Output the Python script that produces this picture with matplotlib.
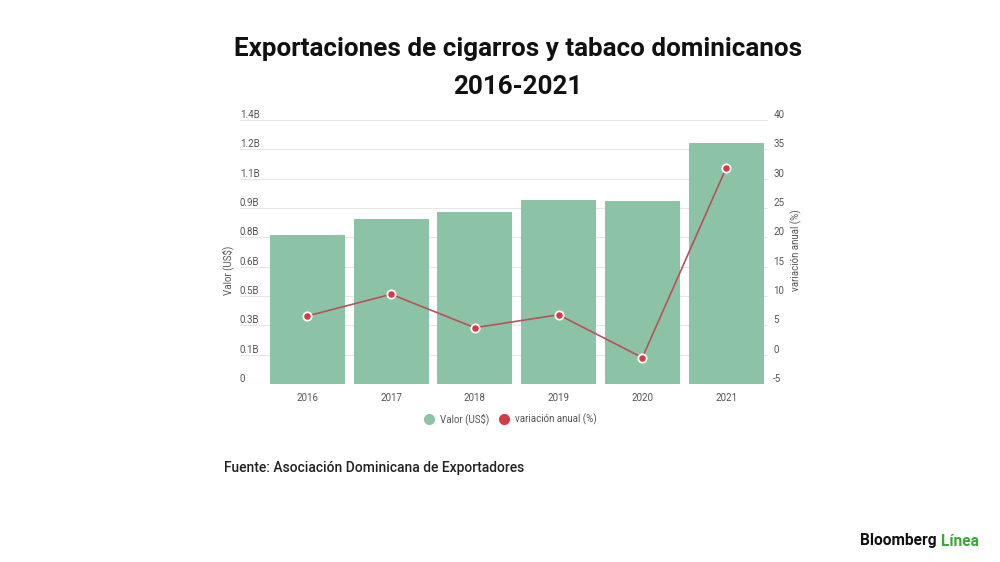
import numpy as np
import matplotlib
matplotlib.use("Agg")
import matplotlib.pyplot as plt
from matplotlib.lines import Line2D

plt.rcParams['font.family'] = ['Roboto', 'DejaVu Sans']

# datos
anios = ["2016", "2017", "2018", "2019", "2020", "2021"]
valor = [0.790, 0.873, 0.912, 0.976, 0.969, 1.280]   # miles de millones US$
variacion = [6.6, 10.3, 4.6, 6.8, -0.5, 31.8]          # %
etiquetas_izq = ["0", "0.1B", "0.3B", "0.5B", "0.6B", "0.8B", "0.9B", "1.1B", "1.2B", "1.4B"]
etiquetas_der = ["-5", "0", "5", "10", "15", "20", "25", "30", "35", "40"]

verde = "#8cc3a6"
rojo = "#d83a45"
linea = "#b5525a"
gris_txt = "#555555"

fig = plt.figure(figsize=(10, 5.62), dpi=100)
ax = fig.add_axes([0.24, 0.3167, 0.528, 0.4698])
ax2 = ax.twinx()

x = np.arange(len(anios))
ax.set_xlim(-0.804, 5.5)
ax.set_ylim(0, 1.4)
ax2.set_ylim(-5, 40)

pos_izq = np.linspace(0, 1.4, len(etiquetas_izq))
pos_der = np.linspace(-5, 40, len(etiquetas_der))

for p in pos_izq[1:]:
    ax.axhline(p, color="#e6e6e6", lw=0.8, zorder=0)
ax.axhline(0, color="#d0d0d0", lw=0.8, zorder=0)

ax.bar(x, valor, width=0.895, color=verde, zorder=2)
ax2.plot(x, variacion, color=linea, lw=1.2, marker="o", markersize=6,
         markerfacecolor=rojo, markeredgecolor="white", markeredgewidth=1.3, zorder=3)

for a in (ax, ax2):
    for s in a.spines.values():
        s.set_visible(False)
    a.tick_params(left=False, right=False, bottom=False, labelleft=False, labelright=False)
    a.set_yticks([])

ax.set_xticks(x)
ax.set_xticklabels(anios, fontsize=7, color=gris_txt)
ax.tick_params(axis="x", pad=3)

for p, t in zip(pos_izq, etiquetas_izq):
    ax.text(0.0, p, t, transform=ax.get_yaxis_transform(), ha="left", va="bottom",
            fontsize=7, color=gris_txt)
for p, t in zip(pos_der, etiquetas_der):
    ax2.text(1.01, p, t, transform=ax2.get_yaxis_transform(), ha="left", va="bottom",
             fontsize=7, color=gris_txt)

fig.text(0.228, 1 - 270 / 562, "Valor (US$)", rotation=90, ha="center", va="center",
         fontsize=7, color=gris_txt)
fig.text(0.796, 1 - 250 / 562, "variación anual (%)", rotation=90, ha="center", va="center",
         fontsize=7, color=gris_txt)

fig.text(0.518, 1 - 68 / 562, "Exportaciones de cigarros y tabaco dominicanos\n2016-2021",
         ha="center", va="center", fontsize=18.7, fontweight="bold", color="#111111",
         linespacing=1.75)

handles = [Line2D([], [], marker="o", ls="", markersize=7, markerfacecolor=verde, markeredgecolor=verde),
           Line2D([], [], marker="o", ls="", markersize=7, markerfacecolor=rojo, markeredgecolor=rojo)]
fig.legend(handles, ["Valor (US$)", "variación anual (%)"], loc="center",
           bbox_to_anchor=(0.508, 1 - 419 / 562), ncol=2, frameon=False, fontsize=7,
           handletextpad=0.1, columnspacing=0.6, labelcolor=gris_txt)

fig.text(0.224, 1 - 468 / 562, "Fuente: Asociación Dominicana de Exportadores",
         ha="left", va="center", fontsize=10, fontweight="medium", color="#222222")

fig.text(0.937, 1 - 541 / 562, "Bloomberg", ha="right", va="center", fontsize=11.2,
         fontweight="bold", color="#111111")
fig.text(0.941, 1 - 541 / 562, "Línea", ha="left", va="center", fontsize=11.2,
         fontweight="bold", color="#3aaa35")

fig.savefig("out.png", dpi=100, facecolor="white")
